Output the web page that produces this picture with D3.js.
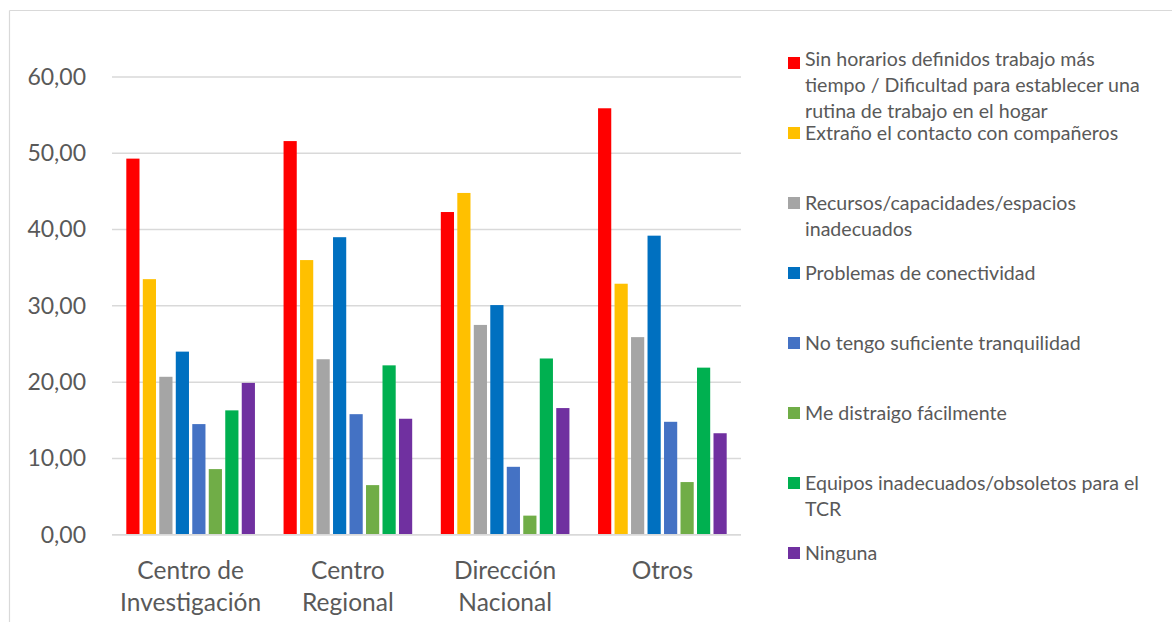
<!DOCTYPE html>
<html>
<head>
<meta charset="utf-8">
<script src="https://cdn.jsdelivr.net/npm/d3@7"></script>
<style>
  html, body { margin: 0; padding: 0; background: #fff; }
  svg { display: block; }
  text { font-family: Lato, "Open Sans", sans-serif; fill: #595959; }
</style>
</head>
<body>
<svg id="chart" width="1172" height="622"></svg>
<script>
// ---- Data ----
const categories = ["Centro de Investigación", "Centro Regional", "Dirección Nacional", "Otros"];
const categoryLines = [["Centro de", "Investigación"], ["Centro", "Regional"], ["Dirección", "Nacional"], ["Otros"]];

const seriesNames = [
  "Sin horarios definidos trabajo más tiempo / Dificultad para establecer una rutina de trabajo en el hogar",
  "Extraño el contacto con compañeros",
  "Recursos/capacidades/espacios inadecuados",
  "Problemas de conectividad",
  "No tengo suficiente tranquilidad",
  "Me distraigo fácilmente",
  "Equipos inadecuados/obsoletos para el TCR",
  "Ninguna"
];
const seriesLines = [
  ["Sin horarios definidos trabajo más", "tiempo / Dificultad para establecer una", "rutina de trabajo en el hogar"],
  ["Extraño el contacto con compañeros"],
  ["Recursos/capacidades/espacios", "inadecuados"],
  ["Problemas de conectividad"],
  ["No tengo suficiente tranquilidad"],
  ["Me distraigo fácilmente"],
  ["Equipos inadecuados/obsoletos para el", "TCR"],
  ["Ninguna"]
];
const seriesColors = ["#FF0000", "#FFC000", "#A5A5A5", "#0070C0", "#4472C4", "#70AD47", "#00B050", "#7030A0"];

// values[series][category]
const sinHorarios   = [49.3, 51.6, 42.3, 55.9];
const extrano       = [33.5, 36.0, 44.8, 32.9];
const recursos      = [20.7, 23.0, 27.5, 25.9];
const conectividad  = [24.0, 39.0, 30.1, 39.2];
const tranquilidad  = [14.5, 15.8, 8.9, 14.8];
const distraigo     = [8.6, 6.5, 2.5, 6.9];
const equipos       = [16.3, 22.2, 23.1, 21.9];
const ninguna       = [19.9, 15.2, 16.6, 13.3];
const seriesValues = [sinHorarios, extrano, recursos, conectividad, tranquilidad, distraigo, equipos, ninguna];

const yTicks = [0, 10, 20, 30, 40, 50, 60];

// ---- Layout ----
const svg = d3.select("#chart");
const plot = { left: 112, right: 741, top: 77, bottom: 534.7 };

// chart border (top and left visible)
svg.append("line").attr("x1", 9.5).attr("x2", 1172).attr("y1", 10.5).attr("y2", 10.5)
  .attr("stroke", "#D9D9D9").attr("stroke-width", 1.2);
svg.append("line").attr("x1", 9.5).attr("x2", 9.5).attr("y1", 10.5).attr("y2", 622)
  .attr("stroke", "#D9D9D9").attr("stroke-width", 1.2);

const x0 = d3.scaleBand().domain(categories).range([plot.left, plot.right])
  .paddingInner(0.182).paddingOuter(0.091);
const x1 = d3.scaleBand().domain(d3.range(seriesNames.length)).range([0, x0.bandwidth()])
  .paddingInner(0.2).paddingOuter(0);
const y = d3.scaleLinear().domain([0, 60]).range([plot.bottom, plot.top]);

// gridlines
svg.append("g").selectAll("line").data(yTicks).join("line")
  .attr("x1", plot.left).attr("x2", plot.right)
  .attr("y1", d => y(d)).attr("y2", d => y(d))
  .attr("stroke", "#D9D9D9").attr("stroke-width", 1.5);

// y-axis labels
const yAxis = d3.axisLeft(y).tickValues(yTicks)
  .tickFormat(d => d3.format(".2f")(d).replace(".", ","))
  .tickSize(0).tickPadding(26);
const yg = svg.append("g").attr("transform", `translate(${plot.left},0)`).call(yAxis);
yg.select(".domain").remove();
yg.selectAll("text").style("font-size", "23px").style("fill", "#595959")
  .style("font-family", "Lato, sans-serif");

// bars
const groups = svg.append("g").selectAll("g").data(categories).join("g")
  .attr("transform", d => `translate(${x0(d)},0)`);
groups.selectAll("rect")
  .data((c, ci) => seriesValues.map((vals, si) => ({ si, v: vals[ci] })))
  .join("rect")
  .attr("x", d => x1(d.si))
  .attr("width", x1.bandwidth())
  .attr("y", d => y(d.v))
  .attr("height", d => y(0) - y(d.v))
  .attr("fill", d => seriesColors[d.si]);

// x baseline
svg.append("line").attr("x1", plot.left).attr("x2", plot.right)
  .attr("y1", y(0)).attr("y2", y(0)).attr("stroke", "#D9D9D9").attr("stroke-width", 1.5);

// x labels
const xl = svg.append("g").selectAll("text").data(categories).join("text")
  .attr("text-anchor", "middle")
  .attr("x", d => x0(d) + x0.bandwidth() / 2)
  .style("font-size", "24.5px");
xl.each(function(d, i) {
  const t = d3.select(this);
  categoryLines[i].forEach((ln, k) => {
    t.append("tspan").attr("x", x0(d) + x0.bandwidth() / 2)
      .attr("y", 570 + k * 32).attr("dy", "0.35em").text(ln);
  });
});

// legend
const legend = svg.append("g");
const legY = d3.scaleLinear().domain([0, 1]).range([63, 133]);
seriesNames.forEach((name, i) => {
  const cy = legY(i);
  const lines = seriesLines[i];
  const first = lines.length > 2 ? cy - 4 : cy;
  const step = lines.length > 2 ? 26 : 26.5;
  legend.append("rect").attr("x", 788).attr("y", cy - 6).attr("width", 12).attr("height", 12)
    .attr("fill", seriesColors[i]);
  const t = legend.append("text").style("font-size", "19.6px");
  lines.forEach((ln, k) => {
    t.append("tspan").attr("x", 805).attr("y", first + k * step).attr("dy", "0.35em").text(ln);
  });
});
</script>
</body>
</html>
